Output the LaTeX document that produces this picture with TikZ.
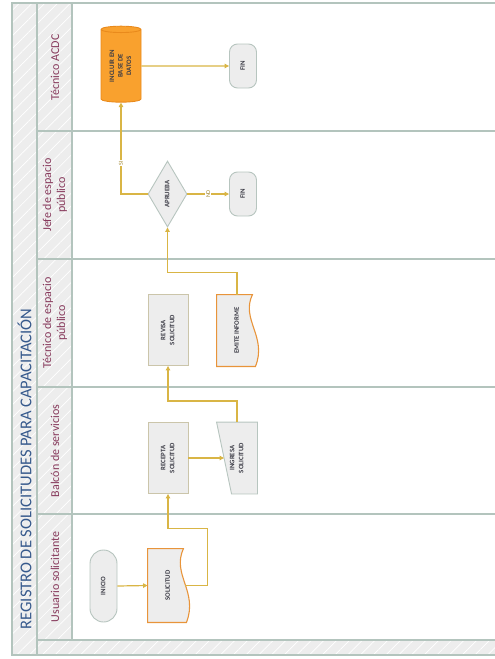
\documentclass[tikz,border=0pt]{standalone}
\usepackage{fontspec}
\setmainfont{Carlito}
\usepackage{graphicx}
\usetikzlibrary{shapes.geometric,arrows.meta,backgrounds,patterns.meta}

\definecolor{lanegrid}{HTML}{B3C4BD}
\definecolor{headfill}{HTML}{EDEDED}
\definecolor{flowgold}{HTML}{D9B545}
\definecolor{boxfill}{HTML}{EDEDED}
\definecolor{boxline}{HTML}{CBC5AA}
\definecolor{termline}{HTML}{B7C5BF}
\definecolor{docline}{HTML}{E8943A}
\definecolor{dbfill}{HTML}{F9A12E}
\definecolor{dbline}{HTML}{E98A1C}
\definecolor{titleblue}{HTML}{36598C}
\definecolor{headred}{HTML}{873A5C}
\definecolor{nodetext}{HTML}{3C3C46}

% text set bottom to top
\newcommand{\vtext}[1]{\rotatebox{90}{\begin{tabular}{@{}c@{}}#1\end{tabular}}}

\begin{document}
\begin{tikzpicture}[x=1pt, y=-1pt,
    laneline/.style = {draw=lanegrid, line width=1.4pt},
    headband/.style = {fill=headfill, postaction={pattern={Lines[angle=45, distance=9pt, line width=0.7pt]}, pattern color=white}},
    lanehead/.style = {text=headred, font=\fontsize{12}{14}\selectfont, inner sep=0pt, align=center, rotate=90},
    proc/.style = {rectangle, draw=boxline, fill=boxfill, line width=0.9pt, minimum width=40pt, minimum height=71pt, inner sep=0pt, text=nodetext, font=\bfseries\fontsize{6.8}{9}\selectfont},
    doc/.style = {proc, draw=none, fill=none},
    docedge/.style = {draw=docline, fill=boxfill, line width=1.1pt},
    inedge/.style = {draw=termline, fill=boxfill, line width=0.9pt},
    term/.style = {proc, draw=termline, minimum width=27pt, minimum height=44pt, rounded corners=8pt},
    decide/.style = {proc, diamond, draw=termline, minimum width=39pt, minimum height=66pt},
    store/.style = {proc, cylinder, shape border rotate=90, aspect=0.25, draw=dbline, fill=dbfill, minimum width=40pt, minimum height=76pt},
    flow/.style = {draw=flowgold, line width=1.2pt, -{Triangle[length=4.5pt, width=4.5pt]}},
    flowtext/.style = {fill=white, text=flowgold!75!black, font=\fontsize{6}{6}\selectfont, inner sep=1pt, rotate=90}
]
\useasboundingbox (0,0) rectangle (495,659);

% frame and lanes
\fill[headband] (12,3) rectangle (37,655);
\fill[headband] (37,3) rectangle (72,640);
\fill[headband] (37,640) rectangle (495,655);
\draw[laneline] (495,3) -- (12,3) -- (12,655) -- (495,655);
\draw[laneline] (37,3) -- (37,655);
\draw[laneline] (72,3) -- (72,640);
\foreach \y in {131,259,387,514,640}
    \draw[laneline] (37,\y) -- (495,\y);

\node[text=titleblue, font=\fontsize{16.5}{18}\selectfont, rotate=90] (title) at (24.5,469) {REGISTRO DE SOLICITUDES PARA CAPACITACIÓN};

\node[lanehead] (hacdc) at (55,67.5) {Técnico ACDC};
\node[lanehead] (hjefe) at (55,195) {Jefe de espacio\\público};
\node[lanehead] (htecnico) at (55,323) {Técnico de espacio\\público};
\node[lanehead] (hbalcon) at (55,451) {Balcón de servicios};
\node[lanehead] (husuario) at (55,577) {Usuario solicitante};

% steps
\node[store, font=\bfseries\fontsize{6.8}{8.5}\selectfont] (incluir) at (121,66) {\vtext{INCLUIR EN\\BASE DE\\DATOS}};
\node[term] (fin1) at (243,66) {\vtext{FIN}};
\node[decide] (aprueba) at (167.5,194) {\vtext{APRUEBA}};
\node[term] (fin2) at (243,194) {\vtext{FIN}};
\node[proc] (revisa) at (168,330) {\vtext{REVISA\\SOLICITUD}};
\node[doc] (emite) at (237,330.5) {\vtext{EMITE INFORME}};
\node[proc] (recepta) at (168,458) {\vtext{RECEPTA\\SOLICITUD}};
\node[doc] (ingresa) at (237,458) {\vtext{INGRESA\\SOLICITUD}};
\node[term, minimum height=72pt, rounded corners=13.5pt] (inicio) at (103.5,586) {\vtext{INICIO}};
\node[doc, minimum height=73pt] (solicitud) at (168,585.5) {\vtext{SOLICITUD}};

\begin{pgfonlayer}{background}
\path[docedge] (solicitud.north west) -- ([xshift=-5pt]solicitud.north east)
    .. controls ([xshift=-17pt,yshift=-26pt]solicitud.north east) and ([xshift=10pt,yshift=-43pt]solicitud.north east)
    .. ([xshift=-2pt]solicitud.south east) -- (solicitud.south west) -- cycle;
\path[docedge] (emite.north west) -- ([xshift=-5pt]emite.north east)
    .. controls ([xshift=-17pt,yshift=-25pt]emite.north east) and ([xshift=10pt,yshift=-42pt]emite.north east)
    .. ([xshift=-2pt]emite.south east) -- (emite.south west) -- cycle;
\path[inedge] (ingresa.north west) -- (ingresa.north east) -- (ingresa.south east)
    -- ([xshift=15pt]ingresa.south west) -- cycle;
\end{pgfonlayer}

% connectors
\draw[flow] (inicio.east) -- (solicitud.west);
\draw[flow] ([xshift=-3.5pt]solicitud.east) -- ++(22.5,0) -- ++(0,-57) -| (recepta.south);
\draw[flow] (recepta.east) -- ([xshift=7.5pt]ingresa.west);
\draw[flow] (ingresa.north) -- ++(0,-21) -| (revisa.south);
\draw[flow] (emite.north) -- ++(0,-22) -| (aprueba.south);
\draw[flow] (aprueba.east) -- node[flowtext]{NO} (fin2.west);
\draw[flow] (aprueba.west) -| node[flowtext, pos=0.67]{SI} (incluir.south);
\draw[flow] (incluir.east) -- (fin1.west);
\end{tikzpicture}
\end{document}
